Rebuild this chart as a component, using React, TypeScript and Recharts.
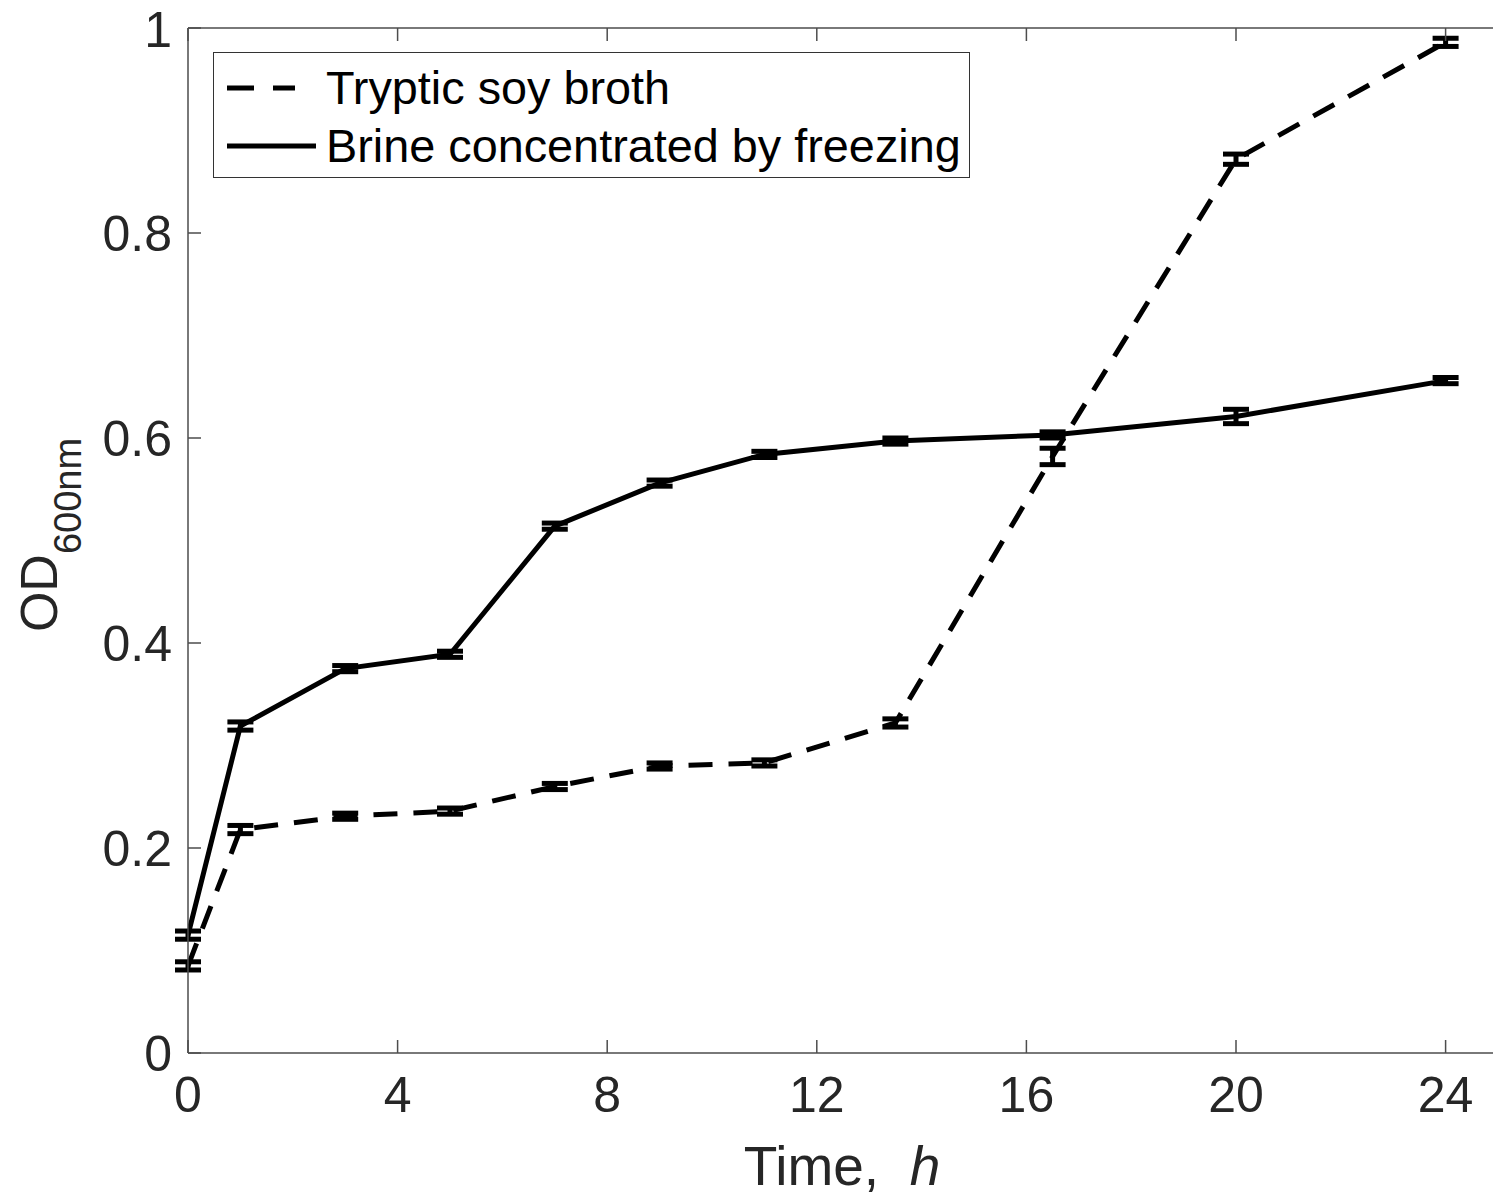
import React from 'react';
import { LineChart, Line, XAxis, YAxis, ErrorBar, Legend, Label } from 'recharts';

// sampling times (h) and OD600 readings
const hours = [0, 1, 3, 5, 7, 9, 11, 13.5, 16.5, 20, 24];
const tsbOD = [0.085, 0.218, 0.231, 0.236, 0.26, 0.28, 0.283, 0.322, 0.582, 0.872, 0.986];
const tsbErr = [0.004, 0.004, 0.003, 0.003, 0.003, 0.003, 0.003, 0.004, 0.008, 0.005, 0.004];
const brineOD = [0.115, 0.319, 0.375, 0.389, 0.514, 0.556, 0.584, 0.597, 0.603, 0.621, 0.656];
const brineErr = [0.004, 0.004, 0.003, 0.003, 0.003, 0.003, 0.003, 0.003, 0.003, 0.007, 0.003];

const xTicks = [0, 4, 8, 12, 16, 20, 24];
const yTicks = [0, 0.2, 0.4, 0.6, 0.8, 1];

const seriesNames = ['Tryptic soy broth', 'Brine concentrated by freezing'];

const chartData = hours.map((t, i) => ({
    t,
    tsb: tsbOD[i],
    tsbErr: tsbErr[i],
    brine: brineOD[i],
    brineErr: brineErr[i],
}));

const FONT = '"Liberation Sans", Arial, Helvetica, sans-serif';
const AXIS = '#4d4d4d';
const TEXT = '#262626';

const fmtY = (v: number) => (v === 0 || v === 1 ? String(v) : v.toFixed(1));
const noLabel = () => '';

const LegendBox = () => (
    <div style={{
        width: 755, height: 124, border: '1.5px solid #333', background: '#fff',
        fontFamily: FONT, fontSize: 46.8, color: '#000', boxSizing: 'content-box',
    }}>
        {seriesNames.map((name, i) => (
            <div key={name} style={{ display: 'flex', alignItems: 'center', height: 58, marginTop: i === 0 ? 6 : 0 }}>
                <svg width={100} height={20} style={{ marginLeft: 13 }}>
                    <line x1={0} y1={10} x2={i === 0 ? 68 : 89} y2={10} stroke="#000" strokeWidth={5}
                        strokeDasharray={i === 0 ? '27 19' : undefined} />
                </svg>
                <span style={{ marginLeft: -1, lineHeight: 1 }}>{name}</span>
            </div>
        ))}
    </div>
);

const YLabel = () => (
    <text transform="rotate(-90)" x={-535} y={57} textAnchor="middle"
        fontFamily={FONT} fontSize={52} fill={TEXT}>
        OD<tspan fontSize={38} dy={24}>600nm</tspan>
    </text>
);

const XLabel = () => (
    <text x={842} y={1185} textAnchor="middle" fontFamily={FONT} fontSize={55} fill={TEXT}>
        {'Time,\u00A0\u00A0'}<tspan fontStyle="italic">h</tspan>
    </text>
);

export default function App() {
    return (
        <div style={{ position: 'absolute', left: 0, top: 0, width: 1493, height: 1196, overflow: 'hidden', background: '#fff' }}>
            <LineChart width={1510} height={1196} data={chartData}
                margin={{ top: 27, right: 11, bottom: 83, left: 108 }}>
                <XAxis dataKey="t" type="number" domain={[0, 25]} ticks={xTicks} allowDataOverflow
                    height={60} stroke={AXIS} strokeWidth={1.5} tickSize={-13} tickMargin={36}
                    tick={{ fill: TEXT, fontSize: 50, fontFamily: FONT }}>
                    <Label content={<XLabel />} />
                </XAxis>
                <XAxis xAxisId="top" dataKey="t" type="number" domain={[0, 25]} ticks={xTicks} orientation="top"
                    height={1} stroke={AXIS} strokeWidth={1.5} tickSize={-13} tickFormatter={noLabel} />
                <YAxis type="number" domain={[0, 1]} ticks={yTicks} width={80} tickFormatter={fmtY}
                    stroke={AXIS} strokeWidth={1.5} tickSize={-13} tickMargin={29}
                    tick={{ fill: TEXT, fontSize: 50, fontFamily: FONT }}>
                    <Label content={<YLabel />} />
                </YAxis>
                <YAxis yAxisId="right" type="number" domain={[0, 1]} ticks={yTicks} orientation="right"
                    width={1} stroke={AXIS} strokeWidth={1.5} tickSize={-13} tickFormatter={noLabel} />
                <Legend layout="horizontal" verticalAlign="middle" content={<LegendBox />}
                    wrapperStyle={{ left: 213, top: 52, width: 'auto' }} />
                <Line type="linear" dataKey="tsb" name={seriesNames[0]} stroke="#000" strokeWidth={5}
                    strokeDasharray="24 16" dot={false} isAnimationActive={false}>
                    <ErrorBar dataKey="tsbErr" direction="y" width={13} stroke="#000" strokeWidth={5} />
                </Line>
                <Line type="linear" dataKey="brine" name={seriesNames[1]} stroke="#000" strokeWidth={5}
                    dot={false} isAnimationActive={false}>
                    <ErrorBar dataKey="brineErr" direction="y" width={13} stroke="#000" strokeWidth={5} />
                </Line>
            </LineChart>
        </div>
    );
}
